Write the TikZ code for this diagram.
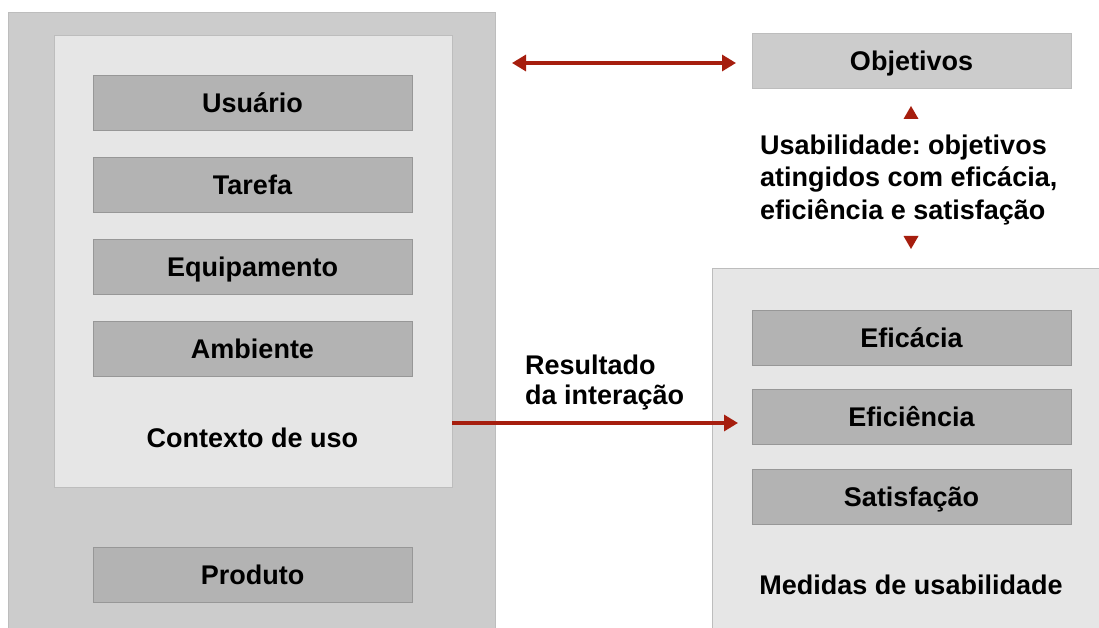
\documentclass[tikz,border=0pt]{standalone}
\usepackage{fontspec}
\setmainfont{Liberation Sans}
\usetikzlibrary{arrows.meta,calc}
\frenchspacing
\definecolor{outerg}{HTML}{CCCCCC}
\definecolor{innerg}{HTML}{E6E6E6}
\definecolor{boxg}{HTML}{B3B3B3}
\definecolor{edgeg}{HTML}{BDBDBD}
\definecolor{arr}{HTML}{A61E0E}
\tikzset{
  panel/.style={draw=edgeg, line width=0.8pt, anchor=north west, inner sep=0pt},
  itembox/.style={draw=edgeg!80!black, line width=0.6pt, fill=boxg, minimum width=319pt, minimum height=55pt, inner sep=0pt, text height=19.5pt, text depth=0pt, font=\fontsize{27}{32}\bfseries},
  lbl/.style={font=\fontsize{27}{32}\bfseries, inner sep=0pt},
  conn/.style={draw=arr, line width=3.2pt, -{Triangle[length=14pt,width=16pt]}},
  tri/.style={fill=arr, draw=none},
}
\begin{document}
\begin{tikzpicture}[x=1pt,y=-1pt]
\useasboundingbox (0,0) rectangle (1099,628);
\fill[white] (0,0) rectangle (1099,628);
% left outer panel
\node[panel, fill=outerg, minimum width=487pt, minimum height=640pt] (outer) at (8,12) {};
\node[panel, fill=innerg, minimum width=398pt, minimum height=452pt] (ctx) at (54,35) {};
\node[itembox] (usu) at (252.5,102.5) {Usuário};
\node[itembox] (tar) at (252.5,184.5) {Tarefa};
\node[itembox] (equ) at (252.5,266.5) {Equipamento};
\node[itembox] (amb) at (252.5,348.5) {Ambiente};
\node[lbl, text height=19.5pt, text depth=0pt] (ctxl) at (252.5,438) {Contexto de uso};
\node[itembox] (prod) at (252.5,574.5) {Produto};
% right side
\node[itembox, fill=outerg, draw=edgeg] (obj) at (911.5,60.5) {Objetivos};
\node[panel, fill=innerg, minimum width=390pt, minimum height=380pt] (med) at (712,268) {};
\node[itembox] (efi) at (911.5,337.5) {Eficácia};
\node[itembox] (efn) at (911.5,417) {Eficiência};
\node[itembox] (sat) at (911.5,496.5) {Satisfação};
\node[lbl, text height=19.5pt, text depth=0pt] (medl) at (911,585) {Medidas de usabilidade};
% usability text
\node[lbl, anchor=west, align=left, font=\fontsize{27}{32.5}\bfseries] (usab) at (760,180) {Usabilidade: objetivos\\atingidos com eficácia,\\eficiência e satisfação};
\coordinate (tu) at (911,113);
\coordinate (td) at (911,242);
\fill[tri] ($(tu)+(0,-7)$) -- ($(tu)+(7.5,6)$) -- ($(tu)+(-7.5,6)$) -- cycle;
\fill[tri] ($(td)+(0,7)$) -- ($(td)+(7.5,-6)$) -- ($(td)+(-7.5,-6)$) -- cycle;
% arrows
\coordinate (da) at (512,63);
\coordinate (db) at (736,63);
\draw[conn, {Triangle[length=14pt,width=16pt]}-{Triangle[length=14pt,width=16pt]}] (da) -- (db);
\coordinate (ra) at (452,423);
\coordinate (rb) at (738,423);
\draw[conn] (ra) -- (rb);
\node[lbl, anchor=west, align=left, font=\fontsize{27}{30}\bfseries] (res) at (525,383) {Resultado\\da interação};
\end{tikzpicture}
\end{document}
